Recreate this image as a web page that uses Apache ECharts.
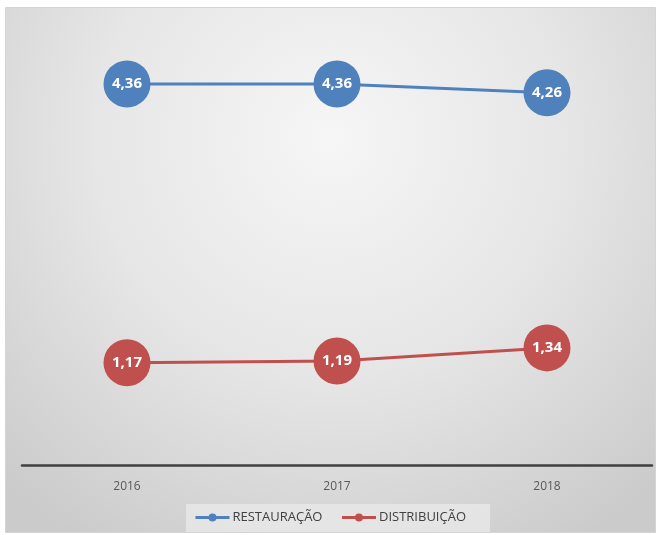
<!DOCTYPE html>
<html>
<head>
<meta charset="utf-8">
<script src="https://cdn.jsdelivr.net/npm/echarts@6/dist/echarts.min.js"></script>
<style>
  html, body { margin: 0; padding: 0; background: #ffffff; }
  #chart { width: 660px; height: 535px; }
</style>
</head>
<body>
<div id="chart"></div>
<script>
// Years on the horizontal axis
const years = ['2016', '2017', '2018'];
// Series values
const restauracao = [4.36, 4.36, 4.26];
const distribuicao = [1.17, 1.19, 1.34];
const seriesNames = ['RESTAURAÇÃO', 'DISTRIBUIÇÃO'];

const BLUE = '#4f81bd';
const RED = '#c0504d';

const fmt = v => v.toFixed(2).replace('.', ',');

function lineSeries(name, data, color) {
  return {
    name: name,
    type: 'line',
    data: data,
    symbol: 'circle',
    symbolSize: 47,
    lineStyle: { color: color, width: 3 },
    itemStyle: { color: color, borderWidth: 0 },
    label: {
      show: true,
      position: 'inside',
      formatter: p => fmt(p.value),
      color: '#ffffff',
      fontFamily: 'Open Sans',
      fontWeight: 'bold',
      fontSize: 15
    },
    emphasis: { disabled: true },
    animation: false
  };
}

const chart = echarts.init(document.getElementById('chart'), null, { renderer: 'canvas' });
chart.setOption({
  animation: false,
  graphic: [{
    type: 'rect',
    z: -10,
    shape: { x: 5.5, y: 7.5, width: 650, height: 525 },
    style: {
      fill: {
        type: 'radial', x: 0.5, y: 0.25, r: 0.9,
        colorStops: [
          { offset: 0, color: '#f6f6f6' },
          { offset: 0.5, color: '#e6e6e6' },
          { offset: 1, color: '#cbcbcb' }
        ]
      },
      stroke: '#d4d4d4',
      lineWidth: 1
    }
  }, {
    type: 'rect',
    z: -5,
    shape: { x: 186, y: 504, width: 304, height: 28 },
    style: { fill: 'rgba(232,232,232,0.8)' }
  }],
  grid: { left: 22, right: 8, top: 28, bottom: 70, containLabel: false },
  xAxis: {
    type: 'category',
    data: years,
    boundaryGap: true,
    axisLine: { lineStyle: { color: '#404040', width: 2.5 } },
    axisTick: { show: false },
    axisLabel: { color: '#595959', fontFamily: 'Open Sans', fontSize: 12, margin: 16 }
  },
  yAxis: {
    type: 'value',
    min: 0,
    max: 5,
    show: false,
    splitLine: { show: false }
  },
  legend: {
    data: seriesNames,
    bottom: 6,
    left: 'center',
    itemWidth: 34,
    itemHeight: 10,
    itemGap: 18,
    textStyle: { color: '#404040', fontFamily: 'Open Sans', fontSize: 13, padding: [0, 0, 0, -2] },
    itemStyle: { borderWidth: 0 },
    lineStyle: { width: 3 },
    selectedMode: false
  },
  series: [
    lineSeries(seriesNames[0], restauracao, BLUE),
    lineSeries(seriesNames[1], distribuicao, RED)
  ]
});
</script>
</body>
</html>
